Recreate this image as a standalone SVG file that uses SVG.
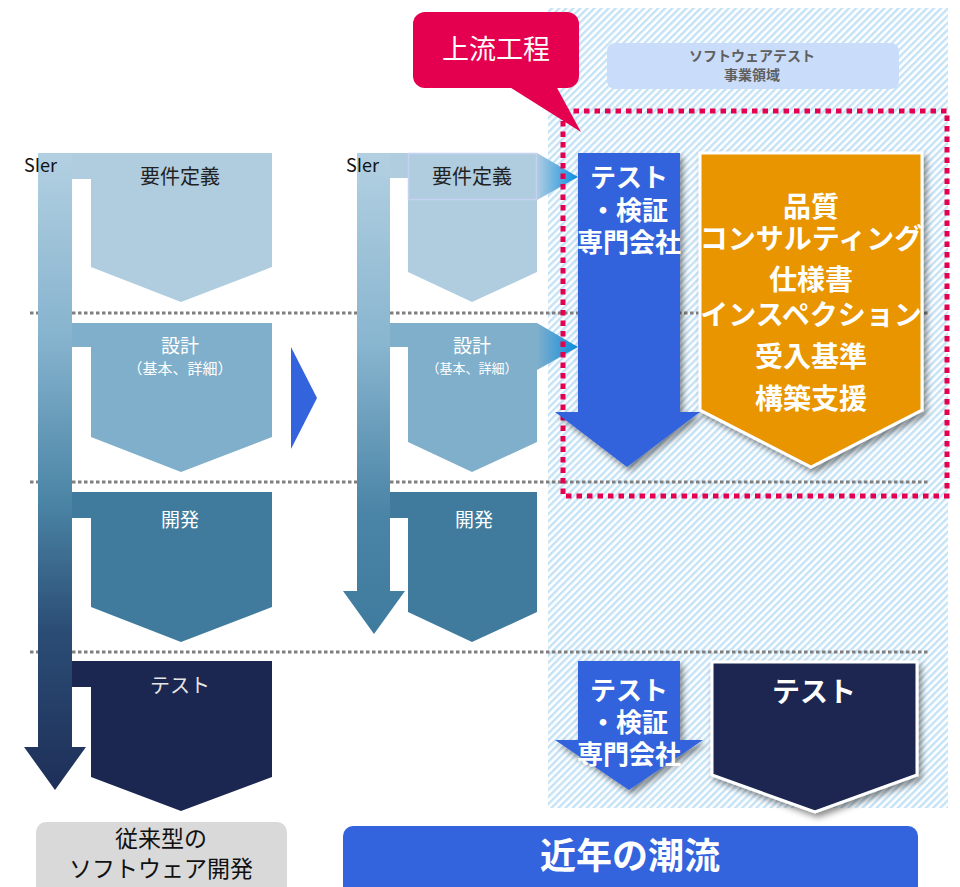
<svg xmlns="http://www.w3.org/2000/svg" width="960" height="887" viewBox="0 0 960 887">
<defs>
  <pattern id="hatch" width="5" height="5" patternUnits="userSpaceOnUse" patternTransform="rotate(45)">
    <rect width="5" height="5" fill="#ffffff"/>
    <rect width="2.4" height="5" fill="#c4e2f6"/>
  </pattern>
  <linearGradient id="shaft1" gradientUnits="userSpaceOnUse" x1="0" y1="153" x2="0" y2="790">
    <stop offset="0" stop-color="#b3d0e2"/>
    <stop offset="0.3" stop-color="#84b2cd"/>
    <stop offset="0.55" stop-color="#4a84a5"/>
    <stop offset="0.75" stop-color="#2b4d75"/>
    <stop offset="1" stop-color="#1e2f58"/>
  </linearGradient>
  <linearGradient id="shaft2" gradientUnits="userSpaceOnUse" x1="0" y1="153" x2="0" y2="634">
    <stop offset="0" stop-color="#b3d0e2"/>
    <stop offset="0.4" stop-color="#88b5cf"/>
    <stop offset="0.75" stop-color="#4a84a6"/>
    <stop offset="1" stop-color="#3f7b9e"/>
  </linearGradient>
  <linearGradient id="g1" x1="0" y1="0" x2="1" y2="0">
    <stop offset="0" stop-color="#b0cde0"/>
    <stop offset="1" stop-color="#0a8de0"/>
  </linearGradient>
  <linearGradient id="g2" x1="0" y1="0" x2="1" y2="0">
    <stop offset="0" stop-color="#80afcb"/>
    <stop offset="1" stop-color="#0a8de0"/>
  </linearGradient>
  <filter id="shadow" x="-20%" y="-20%" width="150%" height="150%">
    <feDropShadow dx="3" dy="4" stdDeviation="3" flood-color="#000" flood-opacity="0.45"/>
  </filter>
  <style>
    text { font-family: "Noto Sans CJK JP", "Noto Sans", sans-serif; text-anchor: middle; dominant-baseline: central; }
    .dot { stroke: #7f7f7f; stroke-width: 3; stroke-dasharray: 3.5 2.5; fill: none; }
    .ph { font-size: 19px; fill: #ffffff; }
    .big { font-weight: bold; fill: #ffffff; }
    .sier { font-size: 18px; fill: #111111; text-anchor: start; }
  </style>
</defs>

<rect width="960" height="887" fill="#ffffff"/>

<g id="zone-hatch">
  <rect x="548" y="8" width="400" height="800" fill="url(#hatch)"/>
</g>

<g id="separators">
  <line class="dot" x1="30" y1="313" x2="929" y2="313"/>
  <line class="dot" x1="30" y1="482" x2="929" y2="482"/>
  <line class="dot" x1="30" y1="652" x2="929" y2="652"/>
</g>

<!-- Left column: traditional -->
<g id="c1-req">
  <polygon points="72,153 272,153 272,267 181,302 91,267 91,179 72,179" fill="#b0cde0"/>
  <text x="180" y="175" font-size="20" fill="#222222">要件定義</text>
</g>
<g id="c1-design">
  <polygon points="72,323 272,323 272,437 181,472 91,437 91,347 72,347" fill="#80afcb"/>
  <text class="ph" x="180" y="344" font-size="18">設計</text>
  <text x="180" y="367" font-size="15" fill="#ffffff">（基本、詳細）</text>
</g>
<g id="c1-dev">
  <polygon points="72,492 272,492 272,607 181,642 91,607 91,518 72,518" fill="#407b9d"/>
  <text class="ph" x="180" y="518">開発</text>
</g>
<g id="c1-test">
  <polygon points="72,661 272,661 272,777 181,811 91,777 91,687 72,687" fill="#1b2751"/>
  <text x="180" y="684" font-size="20" fill="#e6e6e6">テスト</text>
</g>
<g id="c1-sier">
  <polygon points="38,153 72,153 72,747 86,747 55,790 24,747 38,747" fill="url(#shaft1)"/>
  <text class="sier" x="24" y="164">SIer</text>
</g>
<g id="c1-label">
  <rect x="36" y="822" width="251" height="75" rx="10" fill="#d9d9d9"/>
  <text x="161" y="837" font-size="23" fill="#111111">従来型の</text>
  <text x="161" y="867" font-size="23" fill="#111111">ソフトウェア開発</text>
</g>

<g id="transition">
  <polygon points="291,347 317,398 291,449" fill="#3363dd"/>
</g>

<!-- Middle column -->
<g id="c2-req">
  <polygon points="390,153 537,153 537,272 472,302 408,272 408,178 390,178" fill="#b0cde0"/>
  <rect x="408.5" y="153.5" width="128" height="46" fill="none" stroke="#c6d2f2" stroke-width="1.5"/>
  <text x="472" y="175" font-size="20" fill="#222222">要件定義</text>
</g>
<g id="c2-design">
  <polygon points="390,323 537,323 537,442 472,472 408,442 408,347 390,347" fill="#80afcb"/>
  <text class="ph" x="472" y="344" font-size="18">設計</text>
  <text x="472" y="367" font-size="13" fill="#ffffff">（基本、詳細）</text>
</g>
<g id="c2-dev">
  <polygon points="390,492 537,492 537,612 472,642 408,612 408,518 390,518" fill="#407b9d"/>
  <text class="ph" x="474" y="518" font-size="18">開発</text>
</g>
<g id="c2-sier">
  <polygon points="357,153 390,153 390,591 405,591 374,634 343,591 357,591" fill="url(#shaft2)"/>
  <text class="sier" x="346" y="164">SIer</text>
</g>

<g id="connectors">
  <polygon points="537,153 578,177 537,200" fill="url(#g1)"/>
  <polygon points="537,323 578,347 537,370" fill="url(#g2)"/>
</g>

<g id="upstream-frame">
  <rect x="563" y="111" width="384" height="385" fill="none" stroke="#e4004f" stroke-width="5" stroke-dasharray="5.5 5"/>
</g>

<g id="callout">
  <polygon points="508,86 556,86 581,132" fill="#e4004f"/>
  <rect x="413" y="12" width="166" height="76" rx="12" fill="#e4004f"/>
  <text x="496" y="47" font-size="27" fill="#ffffff">上流工程</text>
</g>

<g id="domain-label">
  <rect x="607" y="43" width="292" height="46" rx="8" fill="#c9dcf9"/>
  <text x="752" y="55" font-size="14" font-weight="bold" fill="#5f5f5f">ソフトウェアテスト</text>
  <text x="752" y="74" font-size="14" font-weight="bold" fill="#5f5f5f">事業領域</text>
</g>

<!-- Right: recent trend -->
<g id="test-company-up">
  <polygon points="578,153 680,153 680,412 700,412 627,467 555,412 578,412" fill="#3363dd" filter="url(#shadow)"/>
  <text class="big" x="629" y="175" font-size="26">テスト</text>
  <text class="big" x="629" y="208" font-size="26">・検証</text>
  <text class="big" x="629" y="240" font-size="26">専門会社</text>
</g>
<g id="quality-consulting">
  <polygon points="700,153 922,153 922,410 811,467 700,410" fill="#e89500" stroke="#ffffff" stroke-width="3" filter="url(#shadow)"/>
  <text class="big" x="811" y="205" font-size="28">品質</text>
  <text class="big" x="811" y="237" font-size="28">コンサルティング</text>
  <text class="big" x="811" y="278" font-size="28">仕様書</text>
  <text class="big" x="811" y="313" font-size="28">インスペクション</text>
  <text class="big" x="811" y="355" font-size="28">受入基準</text>
  <text class="big" x="811" y="397" font-size="28">構築支援</text>
</g>
<g id="test-company-down">
  <polygon points="578,661 680,661 680,740 703,740 629,790 555,740 578,740" fill="#3363dd" filter="url(#shadow)"/>
  <text class="big" x="629" y="688" font-size="26">テスト</text>
  <text class="big" x="629" y="720" font-size="26">・検証</text>
  <text class="big" x="629" y="752" font-size="26">専門会社</text>
</g>
<g id="test-phase">
  <polygon points="712,662 917,662 917,775 815,812 712,775" fill="#1b2751" stroke="#ffffff" stroke-width="3" filter="url(#shadow)"/>
  <text class="big" x="814" y="690" font-size="28">テスト</text>
</g>
<g id="trend-label">
  <rect x="343" y="826" width="575" height="75" rx="10" fill="#3363dd"/>
  <text class="big" x="630" y="853" font-size="36">近年の潮流</text>
</g>
</svg>
